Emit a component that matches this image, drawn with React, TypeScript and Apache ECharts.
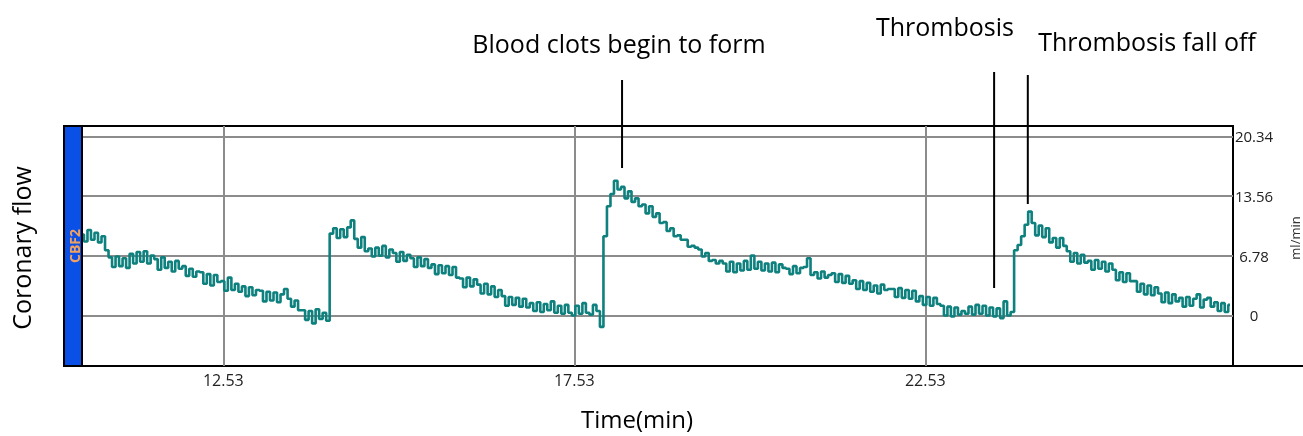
import React, { useEffect, useRef } from "react";
import * as echarts from "echarts";

// Sampling of the trace (minutes)
const T_START = 10.52;
const T_STEP = 0.05;

// Coronary flow (ml/min), read from the recording (noisy trace)
const flow: number[] = [
  9.2, 8.4, 9.7, 8.6, 9.4, 8.3, 9.0, 7.4,
  6.6, 5.5, 6.7, 5.6, 6.5, 5.4,
  7.0, 5.9, 7.2, 6.1, 7.3, 5.9, 6.8,
  6.4, 5.2, 6.6, 5.4, 6.1, 5.0, 6.2, 5.3,
  5.6, 4.5, 5.3, 4.4, 5.0,
  4.9, 3.6, 4.7, 3.4, 4.6, 3.8,
  3.9, 2.8, 4.3, 2.9, 3.6, 2.7,
  3.3, 2.2, 3.2, 2.3, 2.9,
  2.8, 1.6, 2.7, 1.7, 2.6, 1.5, 2.4, 3.0,
  1.9, 1.0, 1.7, 0.6,
  0.6, -0.5, 0.5, -0.9, 0.7, -0.4, 0.3, -0.6,
  9.3,
  9.9, 8.8, 9.8, 8.9, 10.0, 10.8,
  8.7, 7.7, 8.9, 7.3, 7.6,
  6.7, 7.7, 6.8, 7.9, 6.6, 7.5,
  7.1, 6.1, 7.2, 6.2, 6.9,
  6.5, 5.5, 6.6, 5.6, 6.4, 5.4,
  5.8, 4.7, 5.7, 4.8, 5.6, 4.6, 5.5, 4.3,
  4.2, 3.2, 4.3, 3.3, 4.1,
  3.5, 2.5, 3.6, 2.4, 3.3, 2.1, 2.9,
  2.2, 1.1, 2.1, 1.2, 2.0, 1.0, 1.9, 0.9,
  1.4, 0.5, 1.5, 0.4, 1.3, 0.6, 1.6, 0.3,
  1.1, 0.2, 1.2, 0.3, 0.0, 1.1, 0.2, 1.4, 0.3, 0.1, 1.2, 0.5,
  -1.3, 9.0, 12.4, 13.8, 15.3, 14.3, 14.6,
  13.3, 14.1, 12.9, 13.3, 12.4,
  12.6, 11.6, 12.4, 11.2, 11.6,
  10.5, 10.6, 9.6, 9.9,
  9.0, 9.1, 8.6, 8.6, 7.8,
  7.9, 7.7, 7.5, 6.7, 7.1,
  6.2, 6.3, 5.9, 6.2,
  5.9, 5.0, 6.1, 4.9, 5.9, 5.1,
  6.2, 5.2, 6.8, 5.3, 6.1, 5.1,
  5.9, 5.0, 6.0, 4.9, 5.8, 5.4,
  5.3, 4.7, 5.6, 4.8, 5.4,
  5.5, 6.5,
  4.6, 4.9, 4.2, 5.0, 4.3, 4.6,
  4.8, 3.8, 4.7, 3.7, 4.5, 3.6,
  4.0, 3.0, 3.9, 2.9, 3.7,
  2.7, 3.4, 2.5, 3.5, 2.9, 3.0,
  3.0, 2.1, 3.1, 2.0, 2.9, 1.9, 2.8,
  1.6, 2.2, 1.2, 2.1, 1.1, 2.0, 1.3,
  1.1, 0.0, 1.0, -0.1, 0.9, 0.1, 0.5, 0.2,
  1.0, 0.1, 1.2, 0.2, 1.1, 0.0, 0.9,
  -0.1, 0.8, -0.3, 1.6, 0.0, 0.4,
  7.4, 8.0, 9.0, 10.3, 11.8,
  10.5, 9.1, 10.2, 8.9, 9.9,
  8.3, 8.8, 7.7, 8.8, 7.9,
  7.3, 6.1, 7.1, 5.9, 6.9, 6.0,
  6.2, 5.2, 6.3, 5.3, 6.1, 5.0, 5.9,
  5.2, 4.0, 4.9, 3.8, 4.8, 3.9,
  3.9, 2.7, 3.6, 2.4, 3.4, 2.3, 3.2,
  2.5, 1.5, 2.6, 1.4, 2.4, 1.6,
  2.0, 1.0, 2.1, 1.1, 1.9, 2.4, 0.9, 1.8, 2.0, 1.0,
  1.5, 0.5, 1.4, 0.4, 1.2,
];

// Axes
const xRange = [10.517, 26.913];
const yRange = [-5.74, 21.52];
const xTicks = [12.53, 17.53, 22.53];
const yTicks = [0, 6.78, 13.56, 20.34];

// Annotations
const annotLabels = ["Blood clots begin to form", "Thrombosis", "Thrombosis fall off"];
const annotTimes = [18.21, 23.51, 23.99];
const annotTipValues = [16.75, 3.12, 12.66];

const FONT = "'Open Sans', 'Noto Sans', sans-serif";

export default function App() {
  const ref = useRef<HTMLDivElement>(null);

  useEffect(() => {
    if (!ref.current) return;
    const chart = echarts.init(ref.current, undefined, { renderer: "svg" });

    const data = flow.map((v, i) => [T_START + i * T_STEP, v]);

    chart.setOption({
      animation: false,
      grid: {
        left: 82,
        right: 70,
        top: 126,
        bottom: 70,
        show: true,
        borderColor: "#000",
        borderWidth: 2,
        backgroundColor: "transparent",
      },
      xAxis: {
        type: "value",
        min: xRange[0],
        max: xRange[1],
        axisLine: { show: false },
        axisTick: { show: false, customValues: xTicks },
        axisLabel: {
          customValues: xTicks,
          formatter: (v: number) => v.toFixed(2),
          fontFamily: FONT,
          fontSize: 16,
          color: "#222",
          margin: 6,
        },
        splitLine: { show: true, lineStyle: { color: "#8c8c8c", width: 2 } },
      },
      yAxis: {
        type: "value",
        position: "right",
        min: yRange[0],
        max: yRange[1],
        axisLine: { show: false },
        axisTick: { show: false, customValues: yTicks },
        axisLabel: {
          customValues: yTicks,
          formatter: (v: number) => (v === 0 ? "0" : v.toFixed(2)),
          fontFamily: FONT,
          fontSize: 15,
          color: "#222",
          align: "center",
          margin: 21,
        },
        splitLine: { show: true, lineStyle: { color: "#8c8c8c", width: 2 } },
      },
      series: [
        {
          type: "line",
          data,
          showSymbol: false,
          step: "middle",
          lineStyle: { color: "#0e807d", width: 2.6 },
          z: 3,
        },
      ],
    });

    const labelPos = [
      [619, 43],
      [945, 26],
      [1147, 41],
    ];
    const lineTopY = [80, 72, 75];

    const graphics: any[] = [
      {
        type: "rect",
        shape: { x: 64, y: 126, width: 18, height: 240 },
        style: { fill: "#0a4fe6", stroke: "#000", lineWidth: 2 },
        z: 10,
      },
      {
        type: "text",
        x: 74,
        y: 246,
        rotation: Math.PI / 2,
        style: {
          text: "CBF2",
          fill: "#f0a060",
          font: `bold 14px ${FONT}`,
          textAlign: "center",
          textVerticalAlign: "middle",
        },
        z: 11,
      },
      {
        type: "line",
        shape: { x1: 1232, y1: 366, x2: 1303, y2: 366 },
        style: { stroke: "#000", lineWidth: 2 },
        z: 10,
      },
      {
        type: "text",
        x: 1295,
        y: 238,
        rotation: Math.PI / 2,
        style: {
          text: "ml/min",
          fill: "#333",
          font: `13px ${FONT}`,
          textAlign: "center",
          textVerticalAlign: "middle",
        },
      },
      {
        type: "text",
        x: 21,
        y: 248,
        rotation: Math.PI / 2,
        style: {
          text: "Coronary flow",
          fill: "#000",
          font: `25px ${FONT}`,
          textAlign: "center",
          textVerticalAlign: "middle",
        },
      },
      {
        type: "text",
        x: 637,
        y: 418,
        style: {
          text: "Time(min)",
          fill: "#000",
          font: `24px ${FONT}`,
          textAlign: "center",
          textVerticalAlign: "middle",
        },
      },
    ];

    annotLabels.forEach((label, i) => {
      const p = chart.convertToPixel({ gridIndex: 0 }, [annotTimes[i], annotTipValues[i]]) as number[];
      graphics.push({
        type: "line",
        shape: { x1: p[0], y1: lineTopY[i], x2: p[0], y2: p[1] },
        style: { stroke: "#000", lineWidth: 2 },
        z: 12,
      });
      graphics.push({
        type: "text",
        x: labelPos[i][0],
        y: labelPos[i][1],
        style: {
          text: label,
          fill: "#000",
          font: `25px ${FONT}`,
          textAlign: "center",
          textVerticalAlign: "middle",
        },
      });
    });

    chart.setOption({ graphic: graphics });

    return () => {
      chart.dispose();
    };
  }, []);

  return (
    <div
      ref={ref}
      style={{ position: "fixed", left: 0, top: 0, width: 1303, height: 436 }}
    />
  );
}
